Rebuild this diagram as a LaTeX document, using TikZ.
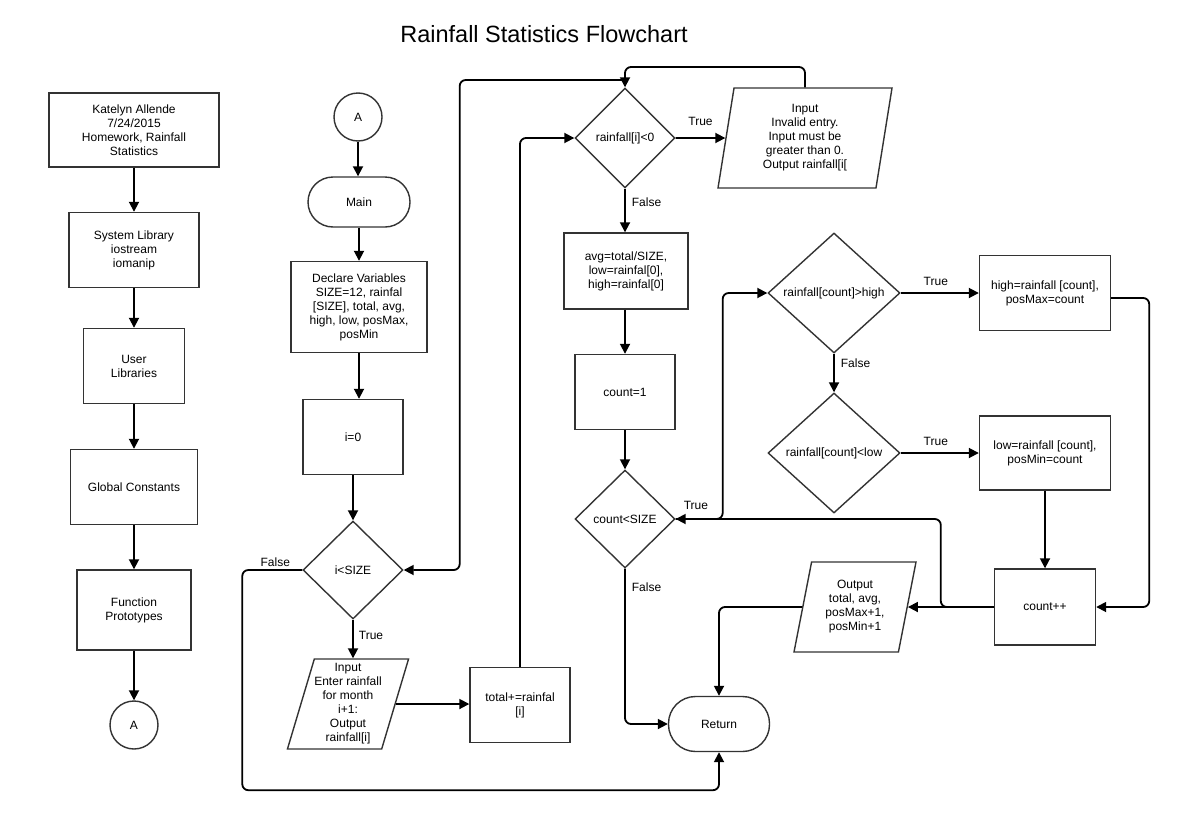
\documentclass[tikz,border=0pt]{standalone}
\usepackage{fontspec}
\setmainfont{Liberation Sans}
\usetikzlibrary{shapes.geometric}
\usetikzlibrary{arrows.meta}

\tikzset{
  shp/.style={draw=black!80, line width=1.4pt, fill=white, inner sep=0pt,
    align=center, font=\fontsize{12}{14}\selectfont},
  box/.style={shp, rectangle},
  term/.style={shp, rectangle, rounded corners=25pt},
  conn/.style={shp, circle, minimum size=48pt},
  dec/.style={shp, diamond},
  io/.style={shp, trapezium, trapezium stretches body},
  arr/.style={line width=1.8pt, -{Triangle[length=10pt,width=10pt]}, rounded corners=6pt},
  lbl/.style={font=\fontsize{12}{14}\selectfont, inner sep=2pt},
  ttl/.style={font=\fontsize{23.5}{26}\selectfont}
}

\begin{document}
\begin{tikzpicture}[x=1pt,y=-1pt]
\useasboundingbox (0,0) rectangle (1177,814);

\node[ttl] (title) at (544,34) {Rainfall Statistics Flowchart};

% left column
\node[box, minimum width=170, minimum height=74] (kat) at (134,130) {Katelyn Allende\\7/24/2015\\Homework, Rainfall\\Statistics};
\node[box, minimum width=130, minimum height=75] (syslib) at (134,250) {System Library\\iostream\\iomanip};
\node[box, minimum width=101, minimum height=75] (usrlib) at (134,366) {User\\Libraries};
\node[box, minimum width=127, minimum height=75] (glob) at (134,487) {Global Constants};
\node[box, minimum width=114, minimum height=80] (proto) at (134,610) {Function\\Prototypes};
\node[conn] (conA) at (134,725) {A};

% main column
\node[conn] (conB) at (358,117) {A};
\node[term, minimum width=102, minimum height=50] (main) at (359,202) {Main};
\node[box, minimum width=136, minimum height=91] (decl) at (359,307) {Declare Variables\\SIZE=12, rainfal\\{[SIZE]}, total, avg,\\high, low, posMax,\\posMin};
\node[box, minimum width=100, minimum height=75] (izero) at (353,437) {i=0};
\node[dec, minimum width=100, minimum height=98] (isz) at (353,570) {i<SIZE};
\node[io, trapezium left angle=71.6, trapezium right angle=108.4,
  minimum width=120, minimum height=90] (inp) at (348,704) {Input\\Enter rainfall\\for month\\i+1:\\Output\\rainfall[i]};
\node[box, minimum width=100, minimum height=75] (tot) at (520,705) {total+=rainfal\\{[i]}};

% reading loop
\node[dec, minimum width=100, minimum height=100] (rain) at (625,138) {rainfall[i]<0};
\node[io, trapezium left angle=76.5, trapezium right angle=103.5,
  minimum width=174, minimum height=100] (inv) at (805,138) {Input\\Invalid entry.\\Input must be\\greater than 0.\\Output rainfall[i[};
\node[box, minimum width=124, minimum height=76] (avg) at (626,271) {avg=total/SIZE,\\low=rainfal[0],\\high=rainfal[0]};
\node[box, minimum width=100, minimum height=75] (cnt1) at (625,392) {count=1};
\node[dec, minimum width=100, minimum height=98] (csz) at (625,519) {count<SIZE};

% statistics loop
\node[dec, minimum width=132, minimum height=120] (gt) at (834,293) {rainfall[count]>high};
\node[dec, minimum width=132, minimum height=120] (lt) at (834,453) {rainfall[count]<low};
\node[box, minimum width=131, minimum height=75] (hi) at (1045,293) {high=rainfall [count],\\posMax=count};
\node[box, minimum width=131, minimum height=74] (lo) at (1045,453) {low=rainfall [count],\\posMin=count};
\node[box, minimum width=101, minimum height=76] (cpp) at (1045,607) {count++};
\node[io, trapezium left angle=71.6, trapezium right angle=108.4,
  minimum width=122, minimum height=90] (out) at (855,607) {Output\\total, avg,\\posMax+1,\\posMin+1};
\node[term, minimum width=101, minimum height=55, rounded corners=27pt] (ret) at (719,724) {Return};

\coordinate (retop) at (625,67);
\coordinate (jn) at (625,80);

% connectors
\draw[arr] (kat) -- (syslib);
\draw[arr] (syslib) -- (usrlib);
\draw[arr] (usrlib) -- (glob);
\draw[arr] (glob) -- (proto);
\draw[arr] (proto) -- (conA);
\draw[arr] (conB.south) -- (conB.south |- main.north);
\draw[arr] (main) -- (decl);
\draw[arr] (decl.south) -- (decl.south |- izero.north);
\draw[arr] (izero) -- (isz);
\draw[arr] (isz.south) -- node[lbl, right, pos=0.4, xshift=3pt] {True} (isz.south |- inp.north);
\draw[arr] (isz.west) -- node[lbl, above, pos=0.45] {False} ++(-60,0) |- ([yshift=-38pt]ret.south) -- (ret.south);
\draw[arr] (inp.east) -- (inp.east -| tot.west);
\draw[arr] (tot.north) |- (rain.west);
\draw[arr] (rain.east) -- node[lbl, above=9pt, pos=0.5] {True} (inv.west);
\draw[arr] (inv.north) |- (retop) -- (rain.north);
\draw[arr] (jn) -| ([xshift=56pt]isz.east) -- (isz.east);
\draw[arr] (rain.south) -- node[lbl, right, pos=0.3, xshift=4pt] {False} (rain.south |- avg.north);
\draw[arr] (avg.south -| cnt1.north) -- (cnt1.north);
\draw[arr] (cnt1) -- (csz);
\draw[arr] (csz.south) |- node[lbl, right, pos=0.06, xshift=4pt] {False} (ret.west);
\draw[arr] (csz.east) -- node[lbl, above=6pt, pos=0.43] {True} ++(47,0) |- (gt.west);
\draw[arr] (gt) -- node[lbl, above=4pt, pos=0.45] {True} (hi);
\draw[arr] (gt) -- node[lbl, right, pos=0.25, xshift=4pt] {False} (lt);
\draw[arr] (lt) -- node[lbl, above=4pt, pos=0.45] {True} (lo);
\draw[arr] (lo) -- (cpp);
\draw[arr] ([yshift=-5pt]hi.east) -- ++(38,0) |- (cpp.east);
\draw[arr] (cpp.west) -- (out.east);
\draw[arr] (cpp.west) -- ++(-53,0) |- (csz.east);
\draw[arr] (out.west) -| (ret.north);

\end{tikzpicture}
\end{document}
